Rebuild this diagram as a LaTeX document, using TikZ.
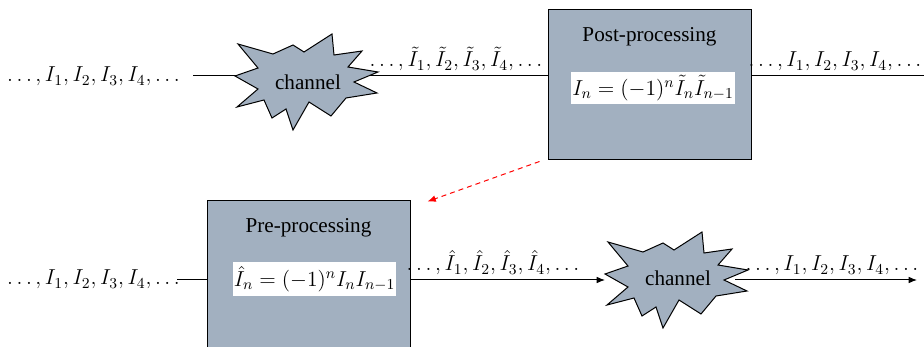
\RequirePackage{fix-cm}
\documentclass[tikz,border=0pt]{standalone}
\usepackage{fontspec}
\setmainfont{Liberation Serif}
\usetikzlibrary{arrows.meta}
\definecolor{procfill}{RGB}{162,176,192}
\tikzset{
  wire/.style={line width=0.6pt, black},
  flow/.style={wire, -{Latex[length=5pt,width=4pt]}},
  feedback/.style={line width=0.6pt, red, dash pattern=on 3pt off 2.4pt, -{Latex[length=5pt,width=4pt]}},
  procbox/.style={draw=black, fill=procfill, line width=0.6pt, minimum width=121.8pt, minimum height=90pt, inner sep=0pt},
  title/.style={font=\fontsize{12.7}{15}\selectfont, inner sep=0pt},
  seq/.style={font=\fontsize{13}{15}\selectfont, inner sep=0pt, anchor=base},
  rule/.style={font=\fontsize{13}{15}\selectfont, fill=white, inner xsep=0.6pt, inner ysep=2.2pt},
  burst/.pic={
    \path[draw=black, fill=procfill, line width=0.6pt, line join=miter]
      (-70,-38) -- (-35,-28) -- (-15,-37) -- (-4,-30) -- (24,-48) -- (26,-27)
      -- (54,-31) -- (40,-15) -- (70,-10) -- (46,0) -- (69,11) -- (38,16)
      -- (23,34) -- (1,20) -- (-15,48) -- (-22,27) -- (-36,36) -- (-44,18)
      -- (-71,25) -- (-50,7) -- (-73,-6) -- (-50,-14) -- cycle;
  }
}
\begin{document}
\begin{tikzpicture}[x=0.6pt, y=-0.6pt]
  \clip (0,0) rectangle (924,347);

  % processing blocks
  \node[procbox] (post) at (649.5,85) {};
  \node[procbox] (pre) at (308.5,276) {};

  % signal path, upper row
  \coordinate (t0) at (193,76);
  \coordinate (t9) at (924,76);
  \draw[wire] (t0) -- (post.west |- t0);
  \draw[wire] (post.east |- t0) -- (t9);

  % signal path, lower row
  \coordinate (u0) at (177,280);
  \coordinate (b2w) at (605,280);
  \coordinate (b2e) at (735,280);
  \coordinate (u9) at (917,280);
  \draw[wire] (u0) -- (pre.west |- u0);
  \draw[flow] (pre.east |- u0) -- (b2w);
  \draw[flow] (b2e) -- (u9);

  % channels
  \coordinate (b1) at (308,82);
  \coordinate (b2) at (678,280);
  \pic at (b1) {burst};
  \pic at (b2) {burst};
  \node[title] (ch1) at (b1) {channel};
  \node[title] (ch2) at ([yshift=1]b2) {channel};

  % block contents
  \node[title] (posttitle) at (649.5,37) {Post-processing};
  \node[rule] (postrule) at (653,88) {$I_n=(-1)^n\tilde{I}_n\tilde{I}_{n-1}$};
  \node[title] (pretitle) at (308.5,228) {Pre-processing};
  \node[rule] (prerule) at (314.5,279) {$\hat{I}_n=(-1)^nI_nI_{n-1}$};

  % sequence labels
  \node[seq] (in1) at (93.5,82) {$\ldots,I_1,I_2,I_3,I_4,\ldots$};
  \node[seq] (rx1) at (456,67) {$\ldots,\tilde{I}_1,\tilde{I}_2,\tilde{I}_3,\tilde{I}_4,\ldots$};
  \node[seq] (out1) at (835,67) {$\ldots,I_1,I_2,I_3,I_4,\ldots$};
  \node[seq] (in2) at (93.5,285) {$\ldots,I_1,I_2,I_3,I_4,\ldots$};
  \node[seq] (tx2) at (493,271) {$\ldots,\hat{I}_1,\hat{I}_2,\hat{I}_3,\hat{I}_4,\ldots$};
  \node[seq] (out2) at (832,271) {$\ldots,I_1,I_2,I_3,I_4,\ldots$};

  % feedback from post- to pre-processing
  \draw[feedback] ([shift={(-8,1)}]post.south west) -- ([shift={(17,1)}]pre.north east);
\end{tikzpicture}
\end{document}
